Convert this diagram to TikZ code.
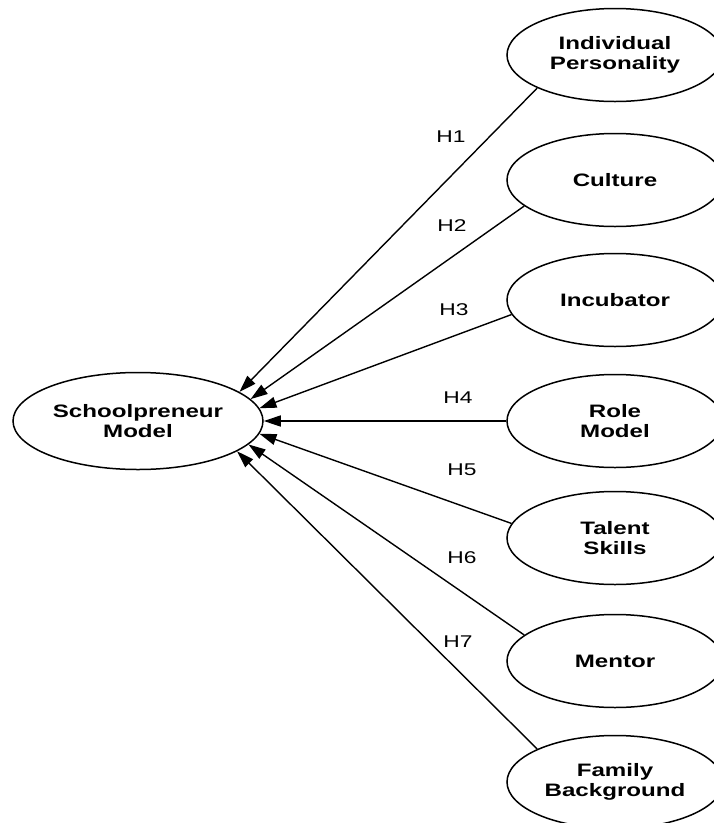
\documentclass[tikz,border=0pt]{standalone}
\usepackage{fontspec}
\setmainfont{Liberation Sans}
\newfontfamily\labfont[FakeStretch=1.34]{Liberation Sans}
\usetikzlibrary{shapes.geometric,arrows.meta}
\begin{document}
\begin{tikzpicture}[x=1pt,y=-1pt,
  factor/.style={draw,line width=1.5pt,ellipse,minimum width=216pt,minimum height=93pt,inner sep=0pt,
    align=center,font=\labfont\bfseries\fontsize{18}{20}\selectfont},
  core/.style={factor,minimum width=250pt,minimum height=97pt},
  hyp/.style={font=\labfont\fontsize{17}{19}\selectfont,inner sep=0pt},
  arr/.style={line width=1.4pt,-{Triangle[length=17pt,width=11pt]}}]
\clip (0,0) rectangle (714,823);
\fill[white] (0,0) rectangle (714,823);
\node[core] (sm) at (138,421) {Schoolpreneur\\Model};
\node[factor] (ip) at (615,55) {Individual\\Personality};
\node[factor] (cu) at (615,180) {Culture};
\node[factor] (in) at (615,300) {Incubator};
\node[factor] (rm) at (615,421) {Role\\Model};
\node[factor] (ts) at (615,538) {Talent\\Skills};
\node[factor] (me) at (615,661) {Mentor};
\node[factor] (fb) at (615,782) {Family\\Background};
\draw[arr] (ip.203) -- (sm.16.5);
\draw[arr] (cu.196) -- (sm.11.5);
\draw[arr] (in.188) -- (sm.6.5);
\draw[arr] (rm.180) -- (sm.0);
\draw[arr] (ts.172) -- (sm.-6.5);
\draw[arr] (me.164) -- (sm.-12);
\draw[arr] (fb.157) -- (sm.-17);
\node[hyp] (h1) at (451,137) {H1};
\node[hyp] (h2) at (452,226) {H2};
\node[hyp] (h3) at (454,310) {H3};
\node[hyp] (h4) at (458,398) {H4};
\node[hyp] (h5) at (462,470) {H5};
\node[hyp] (h6) at (462,558) {H6};
\node[hyp] (h7) at (458,642) {H7};
\end{tikzpicture}
\end{document}
